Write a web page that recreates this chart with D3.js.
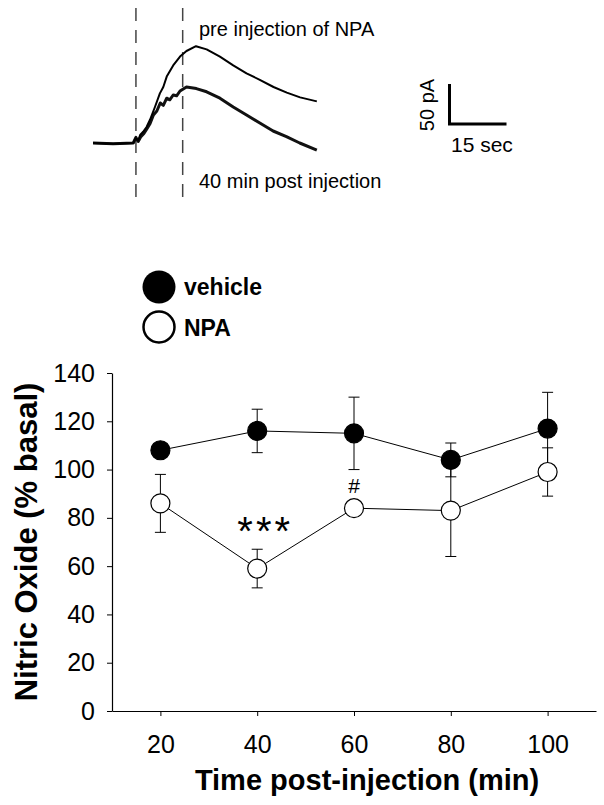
<!DOCTYPE html>
<html>
<head>
<meta charset="utf-8">
<script src="https://cdn.jsdelivr.net/npm/d3@7"></script>
<style>
  html, body { margin: 0; padding: 0; background: #fff; }
  svg { display: block; }
  text { font-family: "Liberation Sans", Arial, sans-serif; fill: #000; }
</style>
</head>
<body>
<script>
// ---------- Data ----------
const times = [20, 40, 60, 80, 100];
const vehicleMean = [108, 116, 115, 104, 117];
const vehicleErr  = [0, 9, 15, 7, 15];
const npaMean = [86, 59, 84, 83, 99];
const npaErr  = [12, 8, 0, 19, 10];
const xTicks = [20, 40, 60, 80, 100];
const yTicks = [0, 20, 40, 60, 80, 100, 120, 140];

// current traces (time in s, current in pA)
const preTime = [0, 5.3, 10.6, 11.2, 11.9, 12.4, 13.2, 14.1, 15.0, 16.3, 17.6, 18.5, 19.4, 21.1, 22.9, 24.6, 27.1, 29.9, 33.4, 36.9, 40.4, 43.9, 47.5, 51.0, 54.5, 58.9];
const preCurrent = [0, -1, 0, 6, 3, 10, 14, 20, 29, 45, 62, 70, 83, 97, 108, 115, 121, 117, 108, 97, 87, 79, 70, 63, 57, 52];
const postTime = [0, 5.3, 10.6, 11.3, 11.9, 12.6, 13.4, 14.2, 15.0, 15.9, 16.8, 17.7, 18.5, 19.4, 20.2, 21.1, 22.0, 22.9, 24.6, 27.2, 29.9, 33.4, 36.9, 40.4, 43.9, 47.4, 50.9, 54.4, 58.9];
const postCurrent = [0, -1, 0, 7, 2, 8, 12, 18, 24, 35, 40, 50, 47, 56, 54, 60, 59, 65, 70, 68, 64, 56, 45, 35, 25, 15, 8, 0, -9];
const markerTimes = [11.3, 23.6];

const W = 604, H = 805;
const svg = d3.select("body").append("svg").attr("width", W).attr("height", H);

// ---------- Top: current traces ----------
const tScale = d3.scaleLinear().domain([0, 60]).range([93, 321]);
const iScale = d3.scaleLinear().domain([0, 100]).range([143, 63]);

svg.selectAll("line.marker").data(markerTimes).enter().append("line")
  .attr("class", "marker")
  .attr("x1", d => tScale(d)).attr("x2", d => tScale(d))
  .attr("y1", 8).attr("y2", 205)
  .attr("stroke", "#444").attr("stroke-width", 1.5)
  .attr("stroke-dasharray", "13,9");

const traceLine = d3.line().x(d => tScale(d[0])).y(d => iScale(d[1]));
svg.append("path").datum(d3.zip(postTime, postCurrent))
  .attr("d", traceLine).attr("fill", "none").attr("stroke", "#111")
  .attr("stroke-width", 3).attr("stroke-linejoin", "round");
svg.append("path").datum(d3.zip(preTime, preCurrent))
  .attr("d", traceLine).attr("fill", "none").attr("stroke", "#000")
  .attr("stroke-width", 2).attr("stroke-linejoin", "round");

svg.append("text").attr("x", 199).attr("y", 36).attr("font-size", 20)
  .text("pre injection of NPA");
svg.append("text").attr("x", 199).attr("y", 188).attr("font-size", 20)
  .text("40 min post injection");

// scale bar
const sbX = 449.5, sbY = 124;
svg.append("path")
  .attr("d", `M${sbX},${sbY - (iScale(0) - iScale(50))}V${sbY}H${sbX + tScale(15) - tScale(0)}`)
  .attr("fill", "none").attr("stroke", "#000").attr("stroke-width", 3);
svg.append("text").attr("transform", "translate(434,105) rotate(-90)")
  .attr("text-anchor", "middle").attr("font-size", 20).text("50 pA");
svg.append("text").attr("x", 451).attr("y", 152).attr("font-size", 21).text("15 sec");

// ---------- Legend ----------
svg.append("circle").attr("cx", 159).attr("cy", 287).attr("r", 16.5).attr("fill", "#000");
svg.append("circle").attr("cx", 159).attr("cy", 327).attr("r", 15.5)
  .attr("fill", "#fff").attr("stroke", "#000").attr("stroke-width", 2.5);
svg.append("text").attr("x", 184).attr("y", 295).attr("font-size", 23)
  .attr("font-weight", "bold").text("vehicle");
svg.append("text").attr("x", 184).attr("y", 336).attr("font-size", 23)
  .attr("font-weight", "bold").text("NPA");

// ---------- Main chart ----------
const x = d3.scaleLinear().domain([10, 110]).range([112, 596]);
const y = d3.scaleLinear().domain([0, 140]).range([711, 373]);

const yAxis = svg.append("g").attr("transform", `translate(${x(10)},0)`)
  .call(d3.axisLeft(y).tickValues(yTicks).tickSize(5).tickSizeOuter(0).tickPadding(12));
const xAxis = svg.append("g").attr("transform", `translate(0,${y(0)})`)
  .call(d3.axisBottom(x).tickValues(xTicks).tickSize(5).tickSizeOuter(0).tickPadding(19));
[yAxis, xAxis].forEach(g => {
  g.selectAll("path.domain").attr("stroke", "#000").attr("stroke-width", 1.2);
  g.selectAll(".tick line").attr("stroke", "#000").attr("stroke-width", 1);
  g.selectAll(".tick text").attr("font-size", 25)
    .attr("font-family", "Liberation Sans, Arial, sans-serif").attr("fill", "#000");
});

svg.append("text").attr("x", 367).attr("y", 790).attr("text-anchor", "middle")
  .attr("font-size", 29).attr("font-weight", "bold").text("Time post-injection (min)");
svg.append("text").attr("transform", "translate(37,542) rotate(-90)")
  .attr("text-anchor", "middle").attr("font-size", 31).attr("font-weight", "bold")
  .text("Nitric Oxide (% basal)");

const series = [
  { mean: vehicleMean, err: vehicleErr, fill: "#000" },
  { mean: npaMean, err: npaErr, fill: "#fff" }
];
const line = d3.line().x(d => x(d[0])).y(d => y(d[1]));

series.forEach(s => {
  svg.append("path").datum(d3.zip(times, s.mean)).attr("d", line)
    .attr("fill", "none").attr("stroke", "#000").attr("stroke-width", 1);
});
series.forEach(s => {
  const pts = d3.zip(times, s.mean, s.err).filter(d => d[2] > 0);
  const g = svg.append("g").attr("stroke", "#000").attr("stroke-width", 1);
  g.selectAll("line.v").data(pts).enter().append("line")
    .attr("x1", d => x(d[0])).attr("x2", d => x(d[0]))
    .attr("y1", d => y(d[1] - d[2])).attr("y2", d => y(d[1] + d[2]));
  g.selectAll("line.t").data(pts).enter().append("line")
    .attr("x1", d => x(d[0]) - 5.5).attr("x2", d => x(d[0]) + 5.5)
    .attr("y1", d => y(d[1] + d[2])).attr("y2", d => y(d[1] + d[2]));
  g.selectAll("line.b").data(pts).enter().append("line")
    .attr("x1", d => x(d[0]) - 5.5).attr("x2", d => x(d[0]) + 5.5)
    .attr("y1", d => y(d[1] - d[2])).attr("y2", d => y(d[1] - d[2]));
});
series.forEach(s => {
  svg.append("g").selectAll("circle").data(d3.zip(times, s.mean)).enter().append("circle")
    .attr("cx", d => x(d[0])).attr("cy", d => y(d[1])).attr("r", 9.5)
    .attr("fill", s.fill).attr("stroke", "#000").attr("stroke-width", 1.2);
});

// significance marks
svg.append("text").attr("x", x(40) + 8).attr("y", 545).attr("text-anchor", "middle")
  .attr("font-size", 40).attr("letter-spacing", 3).text("***");
svg.append("text").attr("x", x(60)).attr("y", 493).attr("text-anchor", "middle")
  .attr("font-size", 21).text("#");
</script>
</body>
</html>
